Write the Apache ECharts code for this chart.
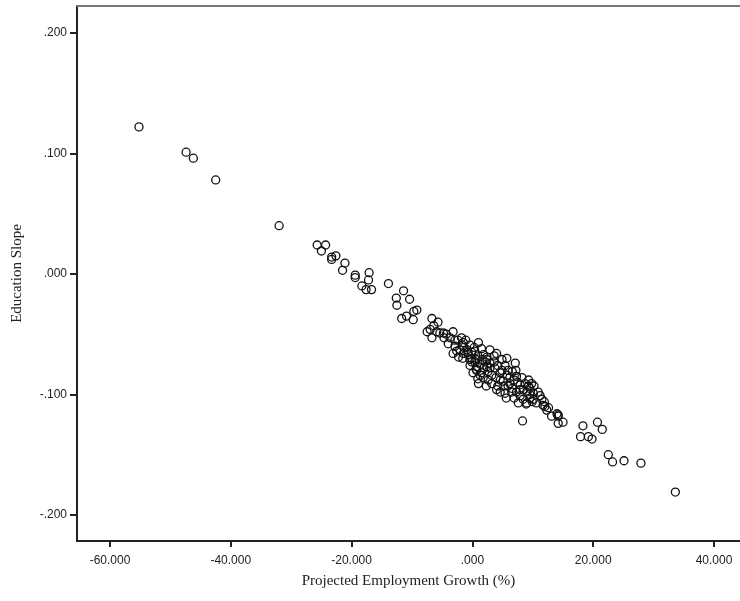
<!DOCTYPE html>
<html>
<head>
<meta charset="utf-8">
<script src="https://cdn.jsdelivr.net/npm/echarts@6/dist/echarts.min.js"></script>
<style>html,body{margin:0;padding:0;background:#fff;}#chart{width:740px;height:601px;}</style>
</head>
<body>
<div id="chart"></div>
<script>
// Projected Employment Growth (%)
const growth = [
  -55.2,-47.4,-46.2,-42.5,-32.0,-25.7,-24.3,-25.0,-23.3,-22.6,-23.3,-21.1,-21.5,-19.4,-19.4,-17.1,-17.2,-18.3,-17.6,-16.7,
  -13.9,-11.4,-12.6,-12.5,-10.4,-9.2,-9.7,-11.7,-10.9,-9.8,
  -6.7,-7.0,-6.7,-5.9,-5.4,-4.8,-4.3,-3.2,-1.8,-1.5,-2.9,-3.2,-2.3,-1.5,-0.7,-0.1,1.0,1.5,1.8,2.4,
  0.4,0.7,0.1,1.0,1.8,2.9,4.0,4.9,5.7,7.1,3.7,3.2,4.0,5.1,5.7,6.2,7.3,7.3,7.6,7.9,
  8.4,9.3,9.3,9.5,10.1,8.4,10.6,11.5,12.0,12.3,14.0,14.2,8.3,2.4,-0.4,0.7,1.5,-0.9,0.4,2.4,
  4.6,6.5,5.4,9.8,9.0,10.1,11.7,12.6,13.1,14.2,14.2,15.0,18.3,17.9,19.2,19.8,20.7,21.5,22.5,23.2,
  25.1,27.9,33.6,
  -2.4,-1.7,-1.1,-0.4,0.3,-0.7,-0.1,0.9,1.6,1.3,1.9,2.6,2.9,3.6,4.2,4.9,5.4,5.9,6.6,6.9,
  7.5,8.2,8.7,9.0,9.5,10.2,10.9,11.2,7.9,6.6,5.9,4.6,3.9,3.2,2.6,2.1,0.6,-1.4,-2.1,-2.9,
  -3.7,-4.7,-4.0,-6.4,-5.7,-7.5,-0.1,1.3,2.3,4.6,5.6,6.9,8.9,9.9,11.9,-0.4,-1.6,2.9,3.6,6.2,
  7.2,4.2,5.2,7.9,9.5,0.9,0.6,-2.6
];
// Education Slope
const slope = [
  0.122,0.101,0.096,0.078,0.040,0.024,0.024,0.019,0.014,0.015,0.012,0.009,0.003,-0.001,-0.003,0.001,-0.005,-0.010,-0.013,-0.013,
  -0.008,-0.014,-0.020,-0.026,-0.021,-0.030,-0.031,-0.037,-0.035,-0.038,
  -0.037,-0.046,-0.053,-0.048,-0.049,-0.049,-0.050,-0.048,-0.053,-0.057,-0.060,-0.066,-0.069,-0.066,-0.067,-0.070,-0.057,-0.062,-0.067,-0.069,
  -0.073,-0.077,-0.082,-0.091,-0.086,-0.074,-0.066,-0.071,-0.070,-0.074,-0.078,-0.084,-0.096,-0.089,-0.084,-0.091,-0.085,-0.098,-0.107,-0.092,
  -0.096,-0.088,-0.093,-0.100,-0.099,-0.104,-0.107,-0.104,-0.110,-0.113,-0.116,-0.118,-0.122,-0.071,-0.071,-0.080,-0.082,-0.063,-0.064,-0.077,
  -0.082,-0.098,-0.099,-0.091,-0.107,-0.104,-0.109,-0.111,-0.118,-0.117,-0.124,-0.123,-0.126,-0.135,-0.135,-0.137,-0.123,-0.129,-0.150,-0.156,
  -0.155,-0.157,-0.181,
  -0.055,-0.059,-0.055,-0.059,-0.061,-0.065,-0.065,-0.068,-0.071,-0.075,-0.078,-0.081,-0.078,-0.073,-0.076,-0.080,-0.076,-0.080,-0.081,-0.088,
  -0.090,-0.086,-0.091,-0.098,-0.095,-0.093,-0.098,-0.101,-0.101,-0.095,-0.093,-0.088,-0.086,-0.091,-0.088,-0.073,-0.071,-0.061,-0.063,-0.055,
  -0.053,-0.053,-0.058,-0.043,-0.040,-0.048,-0.073,-0.084,-0.093,-0.098,-0.103,-0.103,-0.108,-0.106,-0.106,-0.076,-0.070,-0.063,-0.068,-0.086,
  -0.080,-0.093,-0.093,-0.096,-0.103,-0.087,-0.079,-0.064
];
const xTicks = [-60, -40, -20, 0, 20, 40];
const yTicks = [0.2, 0.1, 0, -0.1, -0.2];
const xTitle = 'Projected Employment Growth (%)';
const yTitle = 'Education Slope';

const points = growth.map((g, i) => [g, slope[i]]);
function spssFmt(v) {
  let s = Math.abs(v).toFixed(3);
  if (s.charAt(0) === '0') s = s.slice(1);
  return (v < -1e-9 ? '-' : '') + s;
}
const chart = echarts.init(document.getElementById('chart'), null, {renderer: 'canvas'});
const labelStyle = {color: '#222', fontFamily: 'Liberation Sans, Arial, sans-serif', fontSize: 12};
chart.setOption({
  animation: false,
  backgroundColor: '#fff',
  grid: {left: 77, right: 0, top: 6, bottom: 60, containLabel: false},
  xAxis: [{
    type: 'value', min: -65.46, max: 44.3,
    name: xTitle, nameLocation: 'middle', nameGap: 33,
    nameTextStyle: {fontFamily: 'Liberation Serif, Times New Roman, serif', fontSize: 15, color: '#222'},
    axisLine: {show: true, onZero: false, lineStyle: {color: '#222', width: 2}},
    axisTick: {show: true, length: 6, lineStyle: {color: '#222', width: 2}, customValues: xTicks},
    axisLabel: Object.assign({margin: 14, customValues: xTicks, formatter: spssFmt}, labelStyle),
    splitLine: {show: false}
  }, {
    type: 'value', position: 'top', min: -65.46, max: 44.3,
    axisLine: {show: true, onZero: false, lineStyle: {color: '#777', width: 2}},
    axisTick: {show: false}, axisLabel: {show: false}, splitLine: {show: false}
  }],
  yAxis: [{
    type: 'value', min: -0.2216, max: 0.2223,
    name: yTitle, nameLocation: 'middle', nameGap: 52, nameRotate: 90,
    nameTextStyle: {fontFamily: 'Liberation Serif, Times New Roman, serif', fontSize: 15, color: '#222'},
    axisLine: {show: true, onZero: false, lineStyle: {color: '#222', width: 2}},
    axisTick: {show: true, length: 7, lineStyle: {color: '#222', width: 2}, customValues: yTicks},
    axisLabel: Object.assign({margin: 10, customValues: yTicks, formatter: spssFmt}, labelStyle),
    splitLine: {show: false}
  }],
  series: [{
    type: 'scatter', xAxisIndex: 0, yAxisIndex: 0,
    data: points,
    symbol: 'circle', symbolSize: 8,
    itemStyle: {color: 'rgba(255,255,255,0)', borderColor: '#111', borderWidth: 1.3, opacity: 1},
    emphasis: {disabled: true}
  }]
});
</script>
</body>
</html>
